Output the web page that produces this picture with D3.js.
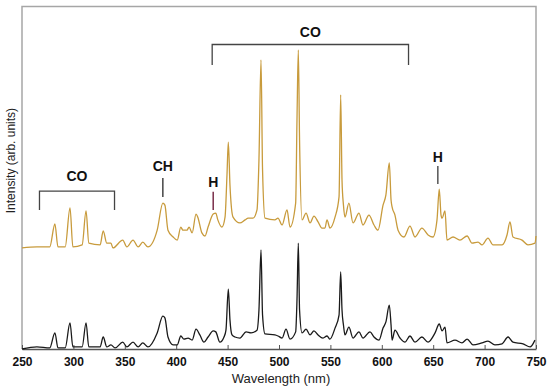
<!DOCTYPE html>
<html>
<head>
<meta charset="utf-8">
<script src="https://cdn.jsdelivr.net/npm/d3@7"></script>
<style>
  body { margin: 0; background: #fff; }
  svg { display: block; font-family: "Liberation Sans", Arial, sans-serif; }
</style>
</head>
<body>
<div id="chart"></div>
<script>
/**
 * DATA (arbitrary intensity units)
 * */
// upper trace (gold): [wavelength nm, intensity]
const goldSpectrum = [
  [250, 29.5], [264.5, 29.8], [277, 29.8], [282, 36.5], [285, 29.8], [292, 29.8],
  [296.7, 41.2], [299.5, 29.8], [308.5, 30.4], [312.3, 40.3], [315, 30.9], [326, 30.4],
  [329, 34.5], [332.5, 30.9], [336.5, 30.9], [338.5, 29.5], [348, 31.8], [352, 29.8],
  [358, 31.8], [363, 29.8], [367.5, 31.2], [372.5, 29.8], [381.5, 34.7], [387, 42.6],
  [389, 42.0], [392, 34.7], [397, 32.7], [401, 31.8], [404.5, 35.6], [406.5, 34.7],
  [410.5, 34.7], [412.5, 35.6], [415.5, 33.9], [419.3, 39.4], [421, 38.5], [425, 33.9],
  [428, 33.0], [431, 35.6], [436, 39.4], [438.5, 39.7], [440.5, 37.7], [444.5, 35.6],
  [447.5, 38.5], [449.4, 50.8], [450.7, 60.4], [452.3, 47.9], [455.3, 38.5], [462, 36.8],
  [467, 37.7], [470, 38.2], [474.7, 38.2], [478.6, 40.6], [480.5, 55.2], [482.5, 84.4],
  [484, 52.3], [486.4, 38.2], [496, 37.7], [499, 38.2], [503, 36.2], [507.8, 40.6],
  [510.7, 35.6], [516.2, 42.6], [517.5, 66.9], [518.8, 87.3], [520, 61.0], [522.4, 37.7],
  [526.3, 39.7], [530.2, 36.8], [534, 38.8], [538, 37.1], [541.8, 35.3], [544.7, 35.3],
  [546.7, 37.7], [549.6, 35.3], [554.5, 38.5], [558.4, 44.4], [560, 74.2], [561.3, 49.3],
  [562.7, 42.0], [564.2, 38.5], [568, 42.6], [572, 36.8], [577.8, 39.7], [581.7, 36.2],
  [587.5, 39.1], [592.4, 36.2], [596.3, 34.7], [601.2, 42.0], [604, 45.0], [607.3, 54.3],
  [609, 43.5], [610, 41.5], [612.8, 39.1], [615.8, 34.7], [621.6, 32.7], [627.4, 35.9],
  [632.3, 32.7], [639, 35.3], [645, 33.3], [649.8, 32.7], [653.7, 37.7], [655.9, 46.7],
  [657.6, 39.1], [658.6, 38.2], [661.5, 40.3], [663.4, 31.8], [669.3, 32.7], [676, 31.8],
  [683, 33.0], [687.7, 30.9], [693.6, 31.2], [697.5, 30.4], [703.3, 32.4], [708.2, 30.4],
  [717, 30.4], [721.8, 33.3], [724.7, 37.1], [727.6, 32.7], [736.4, 31.8], [742.2, 30.4],
  [749, 30.9], [750, 33.0]
];

// lower trace (black)
const blackSpectrum = [
  [250, 0], [264.5, 0.6], [277, 0.3], [282, 4.7], [285, 0.3], [292, 0.3],
  [296.7, 7.6], [299.5, 0.6], [308.5, 0.6], [312.3, 7.6], [315, 0.6], [326, 0.6],
  [329, 3.5], [332.5, 0.6], [336.5, 1.2], [340.5, 0.3], [348, 2.0], [352, 0.6],
  [358, 2.0], [363, 0.6], [367.5, 1.8], [372.5, 0.6], [381.5, 4.7], [387, 9.6],
  [389, 9.1], [392, 3.5], [397, 1.2], [401, 1.2], [404.5, 3.8], [407.5, 2.9],
  [411.5, 3.2], [415.5, 2.6], [419.3, 5.8], [423, 4.1], [427, 2.0], [431, 3.5],
  [436, 5.3], [438.5, 5.0], [442.5, 2.0], [446.5, 3.5], [448.4, 5.5], [450.7, 17.5],
  [452.3, 8.5], [454.3, 4.1], [457.2, 3.5], [462, 3.2], [468, 5.0], [472.8, 4.7],
  [478.6, 5.5], [480.5, 11.4], [482.5, 28.9], [484, 9.9], [486.4, 4.4], [496, 4.1],
  [499, 3.8], [503, 3.2], [506.8, 5.8], [510.7, 2.9], [516.2, 5.0], [517.5, 14.3],
  [518.8, 30.9], [520, 11.4], [522.4, 4.7], [526.3, 5.8], [530.2, 4.1], [534, 5.3],
  [538, 4.1], [542.8, 3.2], [546.7, 3.8], [549.6, 2.9], [554.5, 6.1], [558.4, 9.9],
  [560, 22.5], [561.3, 11.4], [562.7, 7.0], [564.2, 4.1], [568, 6.4], [572, 3.2],
  [577.8, 5.0], [581.7, 3.2], [588.5, 5.0], [592.4, 3.5], [597.3, 2.6], [601.2, 6.1],
  [604, 7.9], [607.3, 12.8], [609, 7.0], [610, 2.6], [612.8, 5.5], [617.7, 3.2],
  [622.6, 2.0], [627.4, 3.8], [632.3, 2.0], [639, 3.5], [645, 2.0], [651.8, 4.7],
  [655.9, 7.3], [658.6, 5.3], [661.5, 6.4], [663.4, 1.8], [671.2, 2.6], [678, 1.8],
  [683, 2.9], [688.7, 1.2], [697.5, 1.8], [703.3, 2.3], [710, 1.2], [717, 1.5],
  [722.8, 3.5], [727.6, 2.0], [737.4, 1.5], [744.2, 0.6], [749, 2.6]
];

const xTicks = [250, 300, 350, 400, 450, 500, 550, 600, 650, 700, 750];

// band labels: brackets [from, to, barLevel, legLevel, label, labelLevel]
const brackets = [
  [267, 340, 46.1, 40.6, "CO", 50.5],
  [435, 626, 88.9, 82.9, "CO", 92.6]
];
// single-line markers: [wavelength, top, bottom, label, labelLevel, colour]
const markers = [
  [387, 49.9, 44.4, "CH", 53.4, "#444"],
  [436, 45.9, 40.6, "H", 48.6, "#7a2e4a"],
  [654.5, 53.4, 48.2, "H", 55.9, "#555"]
];

/**
 * LAYOUT
 * */
const width = 550, height = 386;
const margin = { top: 6.5, right: 14, bottom: 37, left: 22 };

const svg = d3.select("#chart").append("svg")
  .attr("width", width)
  .attr("height", height);

const xScale = d3.scaleLinear()
  .domain([250, 750])
  .range([margin.left, width - margin.right]);

const yScale = d3.scaleLinear()
  .domain([0, 100])
  .range([height - margin.bottom, margin.top]);

// frame (left, top, right) in grey
svg.append("path")
  .attr("d", `M${xScale(250)},${yScale(0)}V${yScale(100)}H${xScale(750)}V${yScale(0)}`)
  .attr("fill", "none")
  .attr("stroke", "#a6a6a6")
  .attr("stroke-width", 1.5);

// x axis with ticks pointing inward
const xAxis = d3.axisBottom(xScale)
  .tickValues(xTicks)
  .tickSize(-4)
  .tickPadding(8)
  .tickSizeOuter(0);

const gx = svg.append("g")
  .attr("transform", `translate(0,${yScale(0)})`)
  .call(xAxis);
gx.select(".domain").attr("stroke", "#555").attr("stroke-width", 1.3);
gx.selectAll(".tick line").attr("stroke", "#555");
gx.selectAll(".tick text")
  .attr("font-size", 12)
  .attr("font-weight", "bold")
  .attr("fill", "#111");

// axis titles
svg.append("text")
  .attr("x", (xScale(250) + xScale(750)) / 2 + 2)
  .attr("y", 383)
  .attr("text-anchor", "middle")
  .attr("font-size", 13)
  .attr("fill", "#222")
  .text("Wavelength (nm)");

svg.append("text")
  .attr("transform", `translate(15,${yScale(55)}) rotate(-90)`)
  .attr("text-anchor", "middle")
  .attr("font-size", 12)
  .attr("fill", "#222")
  .text("Intensity (arb. units)");

// spectra
const line = d3.line()
  .x(d => xScale(d[0]))
  .y(d => yScale(d[1]))
  .curve(d3.curveMonotoneX);

svg.append("path")
  .datum(goldSpectrum)
  .attr("d", line)
  .attr("fill", "none")
  .attr("stroke", "#c89b3c")
  .attr("stroke-width", 1.3)
  .attr("stroke-linejoin", "round");

svg.append("path")
  .datum(blackSpectrum)
  .attr("d", line)
  .attr("fill", "none")
  .attr("stroke", "#1a1a1a")
  .attr("stroke-width", 1.3)
  .attr("stroke-linejoin", "round");

// band brackets
brackets.forEach(([a, b, bar, leg, label, ly]) => {
  svg.append("path")
    .attr("d", `M${xScale(a)},${yScale(leg)}V${yScale(bar)}H${xScale(b)}V${yScale(leg)}`)
    .attr("fill", "none")
    .attr("stroke", "#444")
    .attr("stroke-width", 1.3);
  svg.append("text")
    .attr("x", xScale((a + b) / 2))
    .attr("y", yScale(ly))
    .attr("dy", "0.35em")
    .attr("text-anchor", "middle")
    .attr("font-size", 14)
    .attr("font-weight", "bold")
    .attr("fill", "#111")
    .text(label);
});

// single markers
markers.forEach(([w, top, bottom, label, ly, colour]) => {
  svg.append("line")
    .attr("x1", xScale(w)).attr("x2", xScale(w))
    .attr("y1", yScale(top)).attr("y2", yScale(bottom))
    .attr("stroke", colour)
    .attr("stroke-width", 1.5);
  svg.append("text")
    .attr("x", xScale(w))
    .attr("y", yScale(ly))
    .attr("dy", "0.35em")
    .attr("text-anchor", "middle")
    .attr("font-size", 14)
    .attr("font-weight", "bold")
    .attr("fill", "#111")
    .text(label);
});
</script>
</body>
</html>
